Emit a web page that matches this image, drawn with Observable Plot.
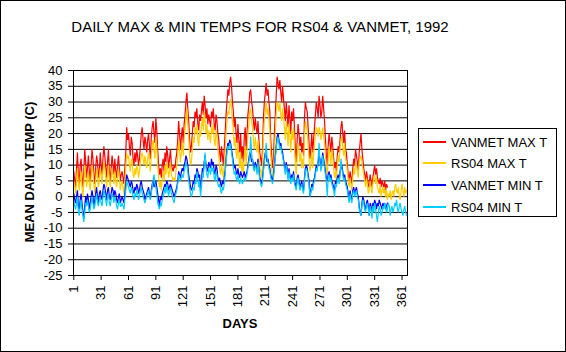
<!DOCTYPE html>
<html><head><meta charset="utf-8">
<script src="https://cdn.jsdelivr.net/npm/d3@7"></script>
<script src="https://cdn.jsdelivr.net/npm/@observablehq/plot@0.6"></script>
<style>
body{margin:0;background:#fff;}
#wrap{position:relative;width:566px;height:352px;font-family:Arial,"Liberation Sans",sans-serif;background:#fff;color:#000;overflow:hidden;}
#wrap svg{position:absolute;left:0;top:0;}
#border{position:absolute;left:0;top:0;width:566px;height:352px;box-sizing:border-box;border:1px solid #000;pointer-events:none;}
#title{position:absolute;left:0;top:18px;width:520px;text-align:center;font-size:15px;line-height:17px;white-space:nowrap;}
#ylab{position:absolute;left:29px;top:172px;transform:translate(-50%,-50%) rotate(-90deg);font-size:13px;font-weight:bold;white-space:nowrap;}
#xlab{position:absolute;left:240px;top:323px;transform:translate(-50%,-50%);font-size:13px;font-weight:bold;white-space:nowrap;}
#legend{position:absolute;left:418px;top:128px;width:139px;height:89px;box-sizing:border-box;border:1px solid #000;background:#fff;}
.row{position:absolute;left:4px;height:16px;display:flex;align-items:center;font-size:13px;white-space:nowrap;}
.sw{width:23px;height:1.5px;margin-right:5px;}
</style></head>
<body>
<div id="wrap">
  <div id="title"></div>
  <div id="ylab"></div>
  <div id="xlab"></div>
  <div id="legend"></div>
  <div id="border"></div>
</div>
<script>
const titleText = "DAILY MAX & MIN TEMPS FOR RS04 & VANMET, 1992";
const yLabel = "MEAN DAILY TEMP (C)";
const xLabel = "DAYS";
const seriesNames = ["VANMET MAX T", "RS04 MAX T", "VANMET MIN T", "RS04 MIN T"];
const seriesColors = ["#ff0000", "#ffcc00", "#0000ff", "#00ccff"];
const xTicks = [1, 31, 61, 91, 121, 151, 181, 211, 241, 271, 301, 331, 361];
const yTicks = [-25, -20, -15, -10, -5, 0, 5, 10, 15, 20, 25, 30, 35, 40];

// VANMET MAX T, days 1..345
const vanmetMax = [
 8,5,3,9,14,7,4,10,12,6,
 3,8,15,11,6,9,13,8,5,10,
 15,12,7,4,9,13,11,6,8,14,
 10,7,12,16,13,9,6,11,15,8,
 5,9,13,10,7,12,8,6,10,13,
 9,5,7,8,6,4,9,14,22,18,
 20,16,13,19,17,12,10,14,11,15,
 13,10,12,16,20,22,18,15,19,17,
 14,18,20,16,12,19,22,24,20,17,
 25,21,15,10,7,9,6,10,12,8,
 14,11,16,13,9,12,15,10,9,8,
 10,9,12,14,18,24,20,15,19,22,
 17,23,26,30,33,28,24,18,14,16,
 20,24,22,27,25,28,23,21,26,24,
 27,30,26,32,29,25,28,23,26,24,
 22,27,25,28,23,21,26,24,20,18,
 14,11,16,13,10,15,20,26,30,34,
 32,36,38,35,30,27,22,25,20,17,
 23,18,14,20,12,16,11,19,22,15,
 20,26,29,33,34,30,28,24,21,25,
 22,20,24,18,14,12,10,15,25,30,
 33,36,32,34,30,27,18,13,9,12,
 20,26,32,38,36,34,37,33,30,35,
 31,28,24,30,26,22,29,25,20,27,
 24,28,22,15,11,18,23,20,16,19,
 14,17,13,25,30,28,27,22,17,12,
 15,20,14,18,22,26,30,28,25,32,
 29,25,27,32,28,24,18,13,10,16,
 20,17,14,19,16,12,9,11,8,13,
 16,14,18,22,24,20,17,21,15,14,
 10,7,5,8,6,4,9,12,10,15,
 13,11,8,14,17,20,15,12,9,7,
 5,8,6,3,4,7,5,3,6,8,
 10,7,9,6,5,4,6,3,5,4,
 3,5,2,4,3
];
// RS04 MAX T, days 1..366
const rs04Max = [
 5,3,1,5,9,4,2,6,8,3,
 0,4,10,7,3,5,8,4,2,6,
 10,8,4,1,5,9,7,3,5,9,
 7,4,8,11,9,6,3,7,10,5,
 3,6,9,7,4,8,5,3,6,9,
 6,2,4,5,3,1,5,9,14,12,
 13,10,8,12,11,7,6,9,7,10,
 9,6,8,11,13,14,12,10,13,11,
 9,12,14,11,8,13,16,18,15,12,
 19,16,10,6,3,5,2,6,8,5,
 10,7,11,9,6,8,11,7,6,5,
 6,5,8,10,13,18,15,11,14,17,
 13,18,21,25,28,23,19,13,10,11,
 15,19,17,22,20,23,18,16,21,19,
 22,25,21,27,24,20,23,18,21,19,
 17,22,20,23,18,16,21,19,15,13,
 9,7,10,8,6,10,14,20,24,27,
 26,29,31,28,24,21,16,19,14,12,
 17,13,9,14,8,11,7,13,16,10,
 14,20,23,27,28,24,22,18,15,19,
 16,14,18,13,9,8,6,10,19,24,
 27,30,26,28,24,21,13,9,6,8,
 14,20,26,30,29,27,30,26,24,28,
 25,22,18,24,20,16,23,19,14,21,
 18,22,16,10,7,13,17,15,11,14,
 9,12,9,19,24,22,21,16,12,8,
 10,15,9,13,16,20,22,21,19,22,
 21,18,20,22,19,17,13,9,7,12,
 16,13,10,15,13,9,6,8,5,10,
 13,11,15,18,19,16,13,17,12,11,
 8,5,3,6,4,2,6,9,7,11,
 10,8,6,11,12,13,11,9,7,5,
 3,6,4,1,2,5,3,1,4,6,
 7,4,6,3,2,1,4,0,2,3,
 1,3,0,2,-1,1,0,2,-1,1,
 2,0,3,4,2,1,3,0,-1,2,
 4,2,0,3,1,2
];
// VANMET MIN T, days 1..345
const vanmetMin = [
 1,-1,-2,0,2,-3,-4,-1,1,-2,
 -5,-7,-3,0,-2,1,-1,-4,-2,0,
 2,0,-3,-1,1,3,0,-2,1,2,
 0,-1,2,4,3,1,-1,2,3,0,
 -1,1,3,2,0,2,1,-1,-2,0,
 1,-2,-1,0,-1,-2,1,4,7,6,
 5,4,3,5,4,2,1,3,2,4,
 3,1,2,4,5,3,2,1,-1,0,
 1,2,3,1,0,2,4,5,3,4,
 5,3,1,-1,-3,0,-1,1,2,3,
 4,3,5,4,2,3,4,3,2,1,
 0,1,2,3,5,8,7,6,8,9,
 8,10,11,13,12,10,7,5,3,2,
 3,5,4,7,6,9,8,6,7,2,
 5,9,8,11,13,10,9,8,11,10,
 9,12,10,11,8,7,10,9,6,5,
 6,4,3,5,4,6,8,12,15,17,
 16,18,17,15,13,11,9,10,8,7,
 9,7,6,8,7,6,7,8,6,7,
 8,10,12,14,13,11,12,10,9,11,
 10,8,12,9,6,5,4,6,9,12,
 14,13,11,12,10,9,7,6,5,7,
 10,13,16,19,20,18,16,17,15,14,
 12,10,8,11,9,6,9,7,5,7,
 6,8,5,4,3,6,7,5,3,4,
 5,3,2,6,9,10,9,7,5,0,
 2,4,3,5,6,8,10,9,11,13,
 12,9,11,14,12,10,8,6,5,7,
 8,6,7,5,4,3,2,5,4,6,
 7,5,8,9,10,8,6,7,5,4,
 3,1,-1,2,0,-1,2,3,1,2,
 3,1,0,-3,-5,-6,-2,0,-1,-3,
 -4,-2,-1,-3,-6,-2,-3,-5,-2,-3,
 -1,-2,-4,-2,-3,-1,-2,-3,-4,-2,
 -3,-2,-4,-3,-2
];
// RS04 MIN T, days 1..366
const rs04Min = [
 -1,-3,-4,-2,0,-5,-6,-3,-1,-4,
 -6,-8,-5,-2,-3,-1,-3,-5,-4,-2,
 0,-2,-4,-3,-1,1,-2,-3,-1,0,
 -2,-3,0,2,1,-1,-3,0,1,-2,
 -3,-1,1,0,-2,0,-1,-3,-4,-2,
 -1,-3,-3,-2,-3,-4,-1,2,5,4,
 3,2,1,3,2,0,-1,1,0,2,
 1,-1,0,2,3,1,0,-1,-2,-1,
 0,1,2,0,-1,1,3,5,7,4,
 3,1,-2,-3,-4,-2,-3,-1,0,1,
 3,1,4,2,0,2,3,1,0,-1,
 -2,0,1,2,4,7,6,5,6,7,
 6,8,9,11,10,8,5,3,1,0,
 1,3,2,5,4,8,6,3,5,0,
 3,7,6,10,14,9,7,6,9,8,
 7,10,8,9,6,5,8,7,4,3,
 4,2,1,3,2,4,7,11,14,16,
 15,17,16,14,12,9,7,8,6,5,
 7,5,4,6,5,4,5,6,5,6,
 7,9,11,13,19,14,11,9,8,10,
 9,7,11,8,5,4,3,5,8,11,
 13,17,12,11,9,8,6,5,4,6,
 9,12,15,18,19,17,15,16,14,13,
 11,9,7,10,8,5,8,6,4,6,
 5,7,4,3,2,5,6,4,2,3,
 4,2,1,5,8,9,8,6,4,0,
 1,3,2,4,5,7,9,8,12,17,
 11,8,10,13,11,9,7,5,0,6,
 7,5,6,4,3,2,0,4,3,5,
 6,4,7,12,9,7,5,6,4,3,
 2,0,-2,1,-1,-2,1,2,0,1,
 2,0,-1,-4,-5,-6,-3,-1,-2,-4,
 -5,-3,-2,-4,-6,-3,-4,-7,-3,-5,
 -2,-4,-6,-8,-5,-3,-4,-6,-5,-3,
 -4,-2,-3,-5,-4,-2,-3,-6,-4,-3,
 -5,-4,-2,-3,-1,-4,-5,-3,-2,-4,
 -5,-6,-4,-3,-5,-6
];

const series = [vanmetMax, rs04Max, vanmetMin, rs04Min];

document.getElementById("title").textContent = titleText;
document.getElementById("ylab").textContent = yLabel;
document.getElementById("xlab").textContent = xLabel;

const legend = document.getElementById("legend");
const rowTops = [5, 26, 48, 70];
seriesNames.forEach((name, i) => {
  const r = document.createElement("div");
  r.className = "row";
  r.style.top = rowTops[i] + "px";
  const sw = document.createElement("div");
  sw.className = "sw";
  sw.style.background = seriesColors[i];
  const t = document.createElement("span");
  t.textContent = name;
  r.appendChild(sw); r.appendChild(t);
  legend.appendChild(r);
});

const chart = Plot.plot({
  width: 566, height: 352,
  marginLeft: 73, marginRight: 159, marginTop: 70, marginBottom: 77,
  style: {fontFamily: "Arial, 'Liberation Sans', sans-serif", fontSize: "13px", background: "transparent", color: "#000", overflow: "visible"},
  x: {type: "linear", domain: [0.67, 367], ticks: xTicks, tickFormat: d => String(d), tickRotate: -90, tickSize: 5, tickPadding: 5, label: null},
  y: {type: "linear", domain: [-25, 40], ticks: yTicks, tickFormat: d => String(d), tickSize: 5, tickPadding: 6, label: null},
  marks: [
    Plot.ruleY(yTicks, {stroke: "#000", strokeWidth: 1, strokeOpacity: 1}),
    ...series.map((s, i) => Plot.line(s, {x: (d, j) => j + 1, y: d => d, stroke: seriesColors[i], strokeWidth: 1.2, strokeLinejoin: "miter"})),
    Plot.frame({stroke: "#000", strokeWidth: 1}),
    Plot.axisX({ticks: xTicks, tickFormat: d => String(d), tickRotate: -90, tickSize: 5, tickPadding: 5, label: null}),
    Plot.axisY({ticks: yTicks, tickFormat: d => String(d), tickSize: 5, tickPadding: 6, label: null})
  ]
});
document.getElementById("wrap").insertBefore(chart, document.getElementById("border"));
</script>
</body></html>
